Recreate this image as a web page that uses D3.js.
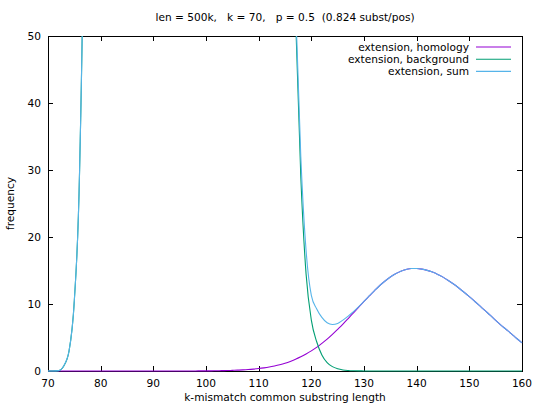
<!DOCTYPE html>
<html>
<head>
<meta charset="utf-8">
<script src="https://cdn.jsdelivr.net/npm/d3@7"></script>
<style>
  body { margin: 0; background: #fff; }
  svg { display: block; font-family: "DejaVu Sans", sans-serif; }
  text { fill: #000; font-size: 10.6px; }
</style>
</head>
<body>
<svg></svg>
<script>
// lengths 70..160, one sample per integer length
var lengths = d3.range(70, 161);

var homology = [
  0, 0, 0, 0, 0, 0, 0, 0, 0, 0,
  0, 0, 0, 0, 0, 0, 0, 0, 0, 0,
  0.0005, 0.0008, 0.001, 0.002, 0.003, 0.004, 0.006, 0.008, 0.011, 0.015,
  0.019, 0.026, 0.037, 0.05, 0.068, 0.092, 0.124, 0.165, 0.216, 0.283,
  0.364, 0.467, 0.594, 0.754, 0.94, 1.16, 1.43, 1.75, 2.11, 2.53,
  3.0, 3.52, 4.13, 4.75, 5.46, 6.22, 7.0, 7.83, 8.68, 9.53,
  10.39, 11.2, 12.0, 12.76, 13.43, 14.03, 14.52, 14.9, 15.15, 15.29,
  15.29, 15.2, 15.02, 14.76, 14.42, 14.01, 13.52, 12.98, 12.39, 11.76,
  11.1, 10.41, 9.71, 9.0, 8.3, 7.55, 6.85, 6.2, 5.55, 4.85,
  4.2
];

var background = [
  0, 0, 0.05, 0.75, 3, 10.5, 30, 85, 230, 560,
  1200, 2300, 3900, 5900, 8000, 9900, 11300, 12000, 11900, 11100,
  9800, 8200, 6600, 5100, 3800, 2800, 2000, 1400, 1000, 700,
  520, 400, 320, 260, 220, 190, 170, 160, 150, 145,
  140, 135, 130, 125, 118, 105, 85, 53, 29, 14.5,
  7.6, 4.4, 2.4, 1.25, 0.65, 0.33, 0.16, 0.08, 0.04, 0.02,
  0.01, 0.005, 0.002, 0.001, 0, 0, 0, 0, 0, 0,
  0, 0, 0, 0, 0, 0, 0, 0, 0, 0,
  0, 0, 0, 0, 0, 0, 0, 0, 0, 0,
  0
];

var sum = [
  0, 0, 0.05, 0.8, 3, 10.5, 30, 85, 230, 560,
  1200, 2300, 3900, 5900, 8000, 9900, 11300, 12000, 11900, 11100,
  9800, 8200, 6600, 5100, 3800, 2800, 2000, 1400, 1000, 700,
  520, 400, 320, 260, 220, 190, 170, 160, 150, 145,
  140, 135, 131, 126, 119, 106, 86, 55, 32, 18,
  11.3, 9.3, 8.0, 7.2, 6.95, 7.1, 7.6, 8.2, 8.85, 9.6,
  10.4, 11.2, 12.0, 12.76, 13.43, 14.03, 14.52, 14.9, 15.15, 15.29,
  15.29, 15.2, 15.02, 14.76, 14.42, 14.01, 13.52, 12.98, 12.39, 11.76,
  11.1, 10.41, 9.71, 9.0, 8.3, 7.55, 6.85, 6.2, 5.55, 4.85,
  4.2
];

var xTicks = [70, 80, 90, 100, 110, 120, 130, 140, 150, 160];
var yTicks = [0, 10, 20, 30, 40, 50];

var seriesNames = ["extension, homology", "extension, background", "extension, sum"];
var seriesColors = ["#9400d3", "#009e73", "#56b4e9"];
var seriesValues = [homology, background, sum];

var width = 545;
var height = 409;
// plot box (avoid the name "top", it is window.top)
var plotL = 48, plotR = 522, plotT = 36, plotB = 371;

var svg = d3.select("svg");
svg.attr("width", width)
svg.attr("height", height)

var x = d3.scaleLinear().domain([70, 160]).range([plotL, plotR]);
var y = d3.scaleLinear().domain([0, 50]).range([plotB, plotT]);

// title
svg.append("text")
    .attr("x", (plotL + plotR) / 2).attr("y", 21)
    .attr("text-anchor", "middle")
    .style("white-space", "pre")
    .text("len = 500k,   k = 70,   p = 0.5  (0.824 subst/pos)");

// axis labels
svg.append("text")
    .attr("x", (plotL + plotR) / 2).attr("y", 401)
    .attr("text-anchor", "middle")
    .text("k-mismatch common substring length");
svg.append("text")
    .attr("transform", "translate(14," + ((plotT + plotB) / 2) + ") rotate(-90)")
    .attr("text-anchor", "middle")
    .text("frequency");

// ticks, gnuplot style: inward, mirrored on both sides
var tickLen = 5;
var tg = svg.append("g").attr("stroke", "#000").attr("stroke-width", 1);
xTicks.forEach(function (t) {
    var px = Math.round(x(t)) + 0.5;
    tg.append("line").attr("x1", px).attr("x2", px).attr("y1", plotB).attr("y2", plotB - tickLen);
    tg.append("line").attr("x1", px).attr("x2", px).attr("y1", plotT).attr("y2", plotT + tickLen);
    svg.append("text").attr("x", x(t)).attr("y", plotB + 16)
        .attr("text-anchor", "middle").text(t);
});
yTicks.forEach(function (t) {
    var py = Math.round(y(t)) + 0.5;
    tg.append("line").attr("x1", plotL).attr("x2", plotL + tickLen).attr("y1", py).attr("y2", py);
    tg.append("line").attr("x1", plotR).attr("x2", plotR - tickLen).attr("y1", py).attr("y2", py);
    svg.append("text").attr("x", plotL - 7).attr("y", y(t) + 4)
        .attr("text-anchor", "end").text(t);
});

// border
svg.append("rect")
    .attr("x", plotL + 0.5).attr("y", plotT + 0.5)
    .attr("width", plotR - plotL).attr("height", plotB - plotT)
    .attr("fill", "none").attr("stroke", "#000").attr("stroke-width", 1);

svg.append("clipPath").attr("id", "plotclip")
    .append("rect")
    .attr("x", plotL).attr("y", plotT)
    .attr("width", plotR - plotL + 1).attr("height", plotB - plotT + 1);

var line = d3.line()
    .curve(d3.curveMonotoneX)
    .x(function (d, i) { return x(lengths[i]); })
    .y(function (d) { return y(d); });

var plot = svg.append("g").attr("clip-path", "url(#plotclip)");
seriesValues.forEach(function (vals, k) {
    plot.append("path")
        .datum(vals)
        .attr("d", line)
        .attr("fill", "none")
        .attr("stroke", seriesColors[k])
        .attr("stroke-width", 1.1)
        .attr("stroke-linejoin", "round");
});

// legend, top right
var lg = svg.append("g");
seriesNames.forEach(function (name, k) {
    var ly = 46.5 + k * 12.2;
    lg.append("text").attr("x", 469).attr("y", ly + 4)
        .attr("text-anchor", "end").text(name);
    lg.append("line")
        .attr("x1", 476).attr("x2", 511)
        .attr("y1", ly + 0.5).attr("y2", ly + 0.5)
        .attr("stroke", seriesColors[k]).attr("stroke-width", 1.1);
});
</script>
</body>
</html>
